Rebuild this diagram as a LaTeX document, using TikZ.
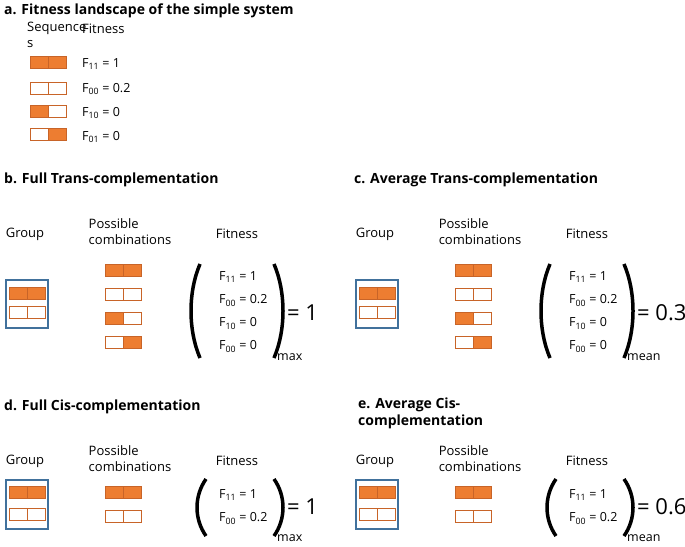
\documentclass[tikz,border=0pt]{standalone}
\usepackage{fontspec}
\setmainfont{Open Sans}
\definecolor{cellfill}{RGB}{237,125,49}
\definecolor{celledge}{RGB}{200,100,40}
\definecolor{groupblue}{RGB}{65,113,156}
\tikzset{
  title/.style={anchor=west, font=\fontsize{14}{17}\selectfont\bfseries, align=left, inner sep=0pt},
  head/.style={anchor=center, font=\fontsize{13}{16}\selectfont, align=left, inner sep=0pt},
  fitlist/.style={anchor=west, font=\fontsize{12.5}{23}\selectfont, align=left, inner sep=0pt},
  result/.style={anchor=west, font=\fontsize{22}{24}\selectfont, inner sep=0pt},
  sub/.style={anchor=west, font=\fontsize{12.5}{14}\selectfont, inner sep=0pt},
  paren/.style={line width=3.5pt},
  groupbox/.style={draw=groupblue, line width=2.2pt}
}
\newcommand{\Fs}[1]{F\textsubscript{#1}}
% cell pair: x, y (centre), left fill, right fill
\newcommand{\seqpair}[4]{%
  \filldraw[draw=celledge, fill=#3, line width=0.8pt] (#1,#2-6) rectangle (#1+18,#2+6);
  \filldraw[draw=celledge, fill=#4, line width=0.8pt] (#1+18,#2-6) rectangle (#1+36,#2+6);}
% big parentheses: left x, right x, top y, bottom y
\newcommand{\bigparens}[4]{%
  \draw[paren] ({#1+8},{#3}) .. controls ({#1-4},{#3+0.3*(#4-#3)}) and ({#1-4},{#3+0.7*(#4-#3)}) .. ({#1+8},{#4});
  \draw[paren] ({#2-8},{#3}) .. controls ({#2+4},{#3+0.3*(#4-#3)}) and ({#2+4},{#3+0.7*(#4-#3)}) .. ({#2-8},{#4});}
\begin{document}
\begin{tikzpicture}[x=1pt, y=-1pt]
\useasboundingbox (0,0) rectangle (685,546);

% a
\node[title] (ta) at (4,11) {a. Fitness landscape of the simple system};
\node[head, anchor=north west] (seqh) at (27,22) {Sequence\\s};
\node[head, anchor=north west] (fith) at (82,24) {Fitness};
\seqpair{30}{62}{cellfill}{cellfill}
\seqpair{30}{88}{white}{white}
\seqpair{30}{111}{cellfill}{white}
\seqpair{30}{134}{white}{cellfill}
\node[sub] (fa1) at (82,64) {\Fs{11} = 1};
\node[sub] (fa2) at (82,89) {\Fs{00} = 0.2};
\node[sub] (fa3) at (82,113) {\Fs{10} = 0};
\node[sub] (fa4) at (82,137) {\Fs{01} = 0};

% b and c
\foreach \dx/\lbl/\res/\sb in {0/{b. Full Trans-complementation}/{= 1}/max, 350/{c. Average Trans-complementation}/{= 0.3}/mean}{
  \node[title] (t\dx) at (4+\dx,180) {\lbl};
  \node[head] (g\dx) at (25+\dx,234) {Group};
  \node[head] (p\dx) at (130+\dx,232) {Possible\\combinations};
  \node[head] (f\dx) at (237+\dx,234) {Fitness};
  \draw[groupbox] (6+\dx,280) rectangle (48+\dx,328);
  \seqpair{9+\dx}{293}{cellfill}{cellfill}
  \seqpair{9+\dx}{312}{white}{white}
  \seqpair{105+\dx}{270}{cellfill}{cellfill}
  \seqpair{105+\dx}{294}{white}{white}
  \seqpair{105+\dx}{318}{cellfill}{white}
  \seqpair{105+\dx}{342}{white}{cellfill}
  \bigparens{192+\dx}{282+\dx}{264}{358}
  \node[fitlist] (l\dx) at (219+\dx,312) {\Fs{11} = 1\\\Fs{00} = 0.2\\\Fs{10} = 0\\\Fs{00} = 0};
  \node[result] (r\dx) at (287+\dx,313) {\res};
  \node[sub] (s\dx) at (277+\dx,357) {\sb};
}

% d and e
\node[title] (td) at (4,407) {d. Full Cis-complementation};
\node[title, anchor=north west] (te) at (358,398) {e. Average Cis-\\complementation};
\foreach \dx/\res/\sb in {0/{= 1}/max, 350/{= 0.6}/mean}{
  \node[head] (gg\dx) at (25+\dx,461) {Group};
  \node[head] (pp\dx) at (130+\dx,459) {Possible\\combinations};
  \node[head] (ff\dx) at (237+\dx,461) {Fitness};
  \draw[groupbox] (6+\dx,480) rectangle (48+\dx,529);
  \seqpair{9+\dx}{492}{cellfill}{cellfill}
  \seqpair{9+\dx}{514}{white}{white}
  \seqpair{105+\dx}{492}{cellfill}{cellfill}
  \seqpair{105+\dx}{516}{white}{white}
  \bigparens{198+\dx}{282+\dx}{479}{536}
  \node[fitlist] (ll\dx) at (219+\dx,507) {\Fs{11} = 1\\\Fs{00} = 0.2};
  \node[result] (rr\dx) at (287+\dx,507) {\res};
  \node[sub] (ss\dx) at (277+\dx,538) {\sb};
}
\end{tikzpicture}
\end{document}
